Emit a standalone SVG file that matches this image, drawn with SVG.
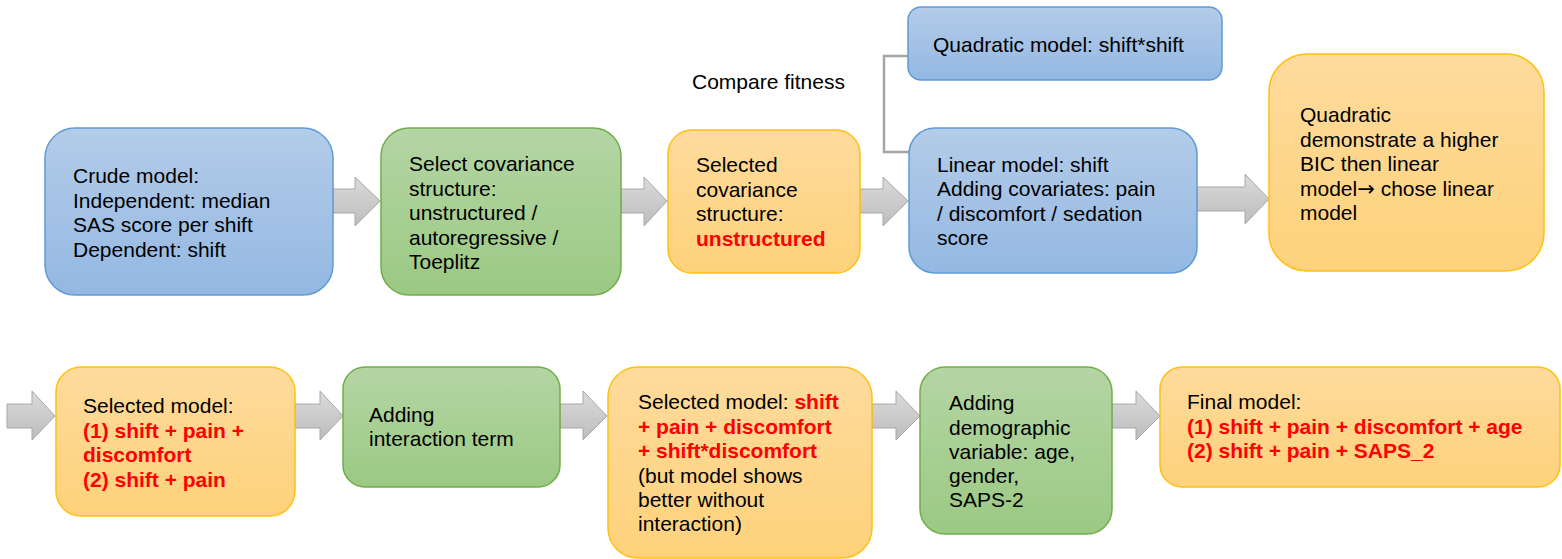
<svg xmlns="http://www.w3.org/2000/svg" width="1562" height="559" viewBox="0 0 1562 559">
<style>
text{font-family:"Liberation Sans",Arial,sans-serif;font-size:21px;fill:#000}
.r{fill:#ff0000;font-weight:bold}
.blue{fill:url(#gb);stroke:#5f9bd6;stroke-width:1.5}
.green{fill:url(#gg);stroke:#72ad4a;stroke-width:1.5}
.orange{fill:url(#go);stroke:#ffc012;stroke-width:1.5}
.arr{fill:url(#ga);stroke:#a8a8a8;stroke-width:1}
</style>
<defs>
<linearGradient id="gb" x1="0" y1="0" x2="0" y2="1"><stop offset="0" stop-color="#b3cce9"/><stop offset="1" stop-color="#94b8e2"/></linearGradient>
<linearGradient id="gg" x1="0" y1="0" x2="0" y2="1"><stop offset="0" stop-color="#b4d5a4"/><stop offset="1" stop-color="#9bc983"/></linearGradient>
<linearGradient id="go" x1="0" y1="0" x2="0" y2="1"><stop offset="0" stop-color="#fedb9d"/><stop offset="1" stop-color="#fed27b"/></linearGradient>
<linearGradient id="ga" x1="0" y1="0" x2="0" y2="1"><stop offset="0" stop-color="#dadada"/><stop offset="1" stop-color="#bdbdbd"/></linearGradient>
</defs>

<g id="connectors">
<path class="arr" d="M333,189 H355 V177 L380,201 L355,226 V213 H333 Z"/>
<path class="arr" d="M621,189 H644 V177 L667,201 L644,226 V213 H621 Z"/>
<path class="arr" d="M860,189 H883 V177 L908,201 L883,226 V213 H860 Z"/>
<path class="arr" d="M1197,187 H1245 V174 L1269,199 L1245,224 V211 H1197 Z"/>
<path class="arr" d="M7,404 H32 V391 L55,416 L32,440 V428 H7 Z"/>
<path class="arr" d="M295,404 H320 V391 L343,416 L320,440 V428 H295 Z"/>
<path class="arr" d="M560,404 H583 V391 L607,416 L583,440 V428 H560 Z"/>
<path class="arr" d="M872,404 H896 V391 L920,416 L896,440 V428 H872 Z"/>
<path class="arr" d="M1112,404 H1136 V391 L1160,416 L1136,440 V428 H1112 Z"/>
<path d="M908,56 H884 V152 H909" fill="none" stroke="#a5a5a5" stroke-width="2.5"/>
</g>

<text x="692" y="89">Compare fitness</text>

<g id="n1">
<rect class="blue" x="45" y="128" width="288" height="167" rx="30"/>
<text x="73" y="183">Crude model:</text>
<text x="73" y="207.5">Independent: median</text>
<text x="73" y="232">SAS score per shift</text>
<text x="73" y="256.5">Dependent: shift</text>
</g>

<g id="n2">
<rect class="green" x="381" y="128" width="240" height="167" rx="28"/>
<text x="409" y="171">Select covariance</text>
<text x="409" y="195.5">structure:</text>
<text x="409" y="220">unstructured /</text>
<text x="409" y="244.5">autoregressive /</text>
<text x="409" y="269">Toeplitz</text>
</g>

<g id="n3">
<rect class="orange" x="668" y="130" width="192" height="143" rx="24"/>
<text x="696" y="172">Selected</text>
<text x="696" y="196.5">covariance</text>
<text x="696" y="221">structure:</text>
<text x="696" y="245.5" class="r">unstructured</text>
</g>

<g id="n4">
<rect class="blue" x="908" y="7" width="314" height="73" rx="13"/>
<text x="933" y="52">Quadratic model: shift*shift</text>
</g>

<g id="n5">
<rect class="blue" x="909" y="128" width="288" height="145" rx="26"/>
<text x="937" y="172">Linear model: shift</text>
<text x="937" y="196">Adding covariates: pain</text>
<text x="937" y="220.5">/ discomfort / sedation</text>
<text x="937" y="245">score</text>
</g>

<g id="n6">
<rect class="orange" x="1269" y="54" width="275" height="217" rx="38"/>
<text x="1300" y="122">Quadratic</text>
<text x="1300" y="146.5">demonstrate a higher</text>
<text x="1300" y="171">BIC then linear</text>
<text x="1300" y="195.5">model<tspan style="font-family:'DejaVu Sans',sans-serif">→</tspan> chose linear</text>
<text x="1300" y="220">model</text>
</g>

<g id="n7">
<rect class="orange" x="56" y="367" width="239" height="149" rx="25"/>
<text x="83" y="413">Selected model:</text>
<text x="83" y="437.5" class="r">(1) shift + pain +</text>
<text x="83" y="462" class="r">discomfort</text>
<text x="83" y="486.5" class="r">(2) shift + pain</text>
</g>

<g id="n8">
<rect class="green" x="343" y="367" width="217" height="120" rx="22"/>
<text x="369" y="422">Adding</text>
<text x="369" y="446">interaction term</text>
</g>

<g id="n9">
<rect class="orange" x="608" y="367" width="264" height="191" rx="30"/>
<text x="638" y="409">Selected model: <tspan class="r">shift</tspan></text>
<text x="638" y="433.5" class="r">+ pain + discomfort</text>
<text x="638" y="458" class="r">+ shift*discomfort</text>
<text x="638" y="482.5">(but model shows</text>
<text x="638" y="507">better without</text>
<text x="638" y="531">interaction)</text>
</g>

<g id="n10">
<rect class="green" x="920" y="367" width="192" height="167" rx="25"/>
<text x="949" y="410">Adding</text>
<text x="949" y="434.5">demographic</text>
<text x="949" y="459">variable: age,</text>
<text x="949" y="483">gender,</text>
<text x="949" y="507">SAPS-2</text>
</g>

<g id="n11">
<rect class="orange" x="1160" y="367" width="400" height="120" rx="22"/>
<text x="1187" y="409">Final model:</text>
<text x="1187" y="433.5" class="r">(1) shift + pain + discomfort + age</text>
<text x="1187" y="458" class="r">(2) shift + pain + SAPS_2</text>
</g>
</svg>
